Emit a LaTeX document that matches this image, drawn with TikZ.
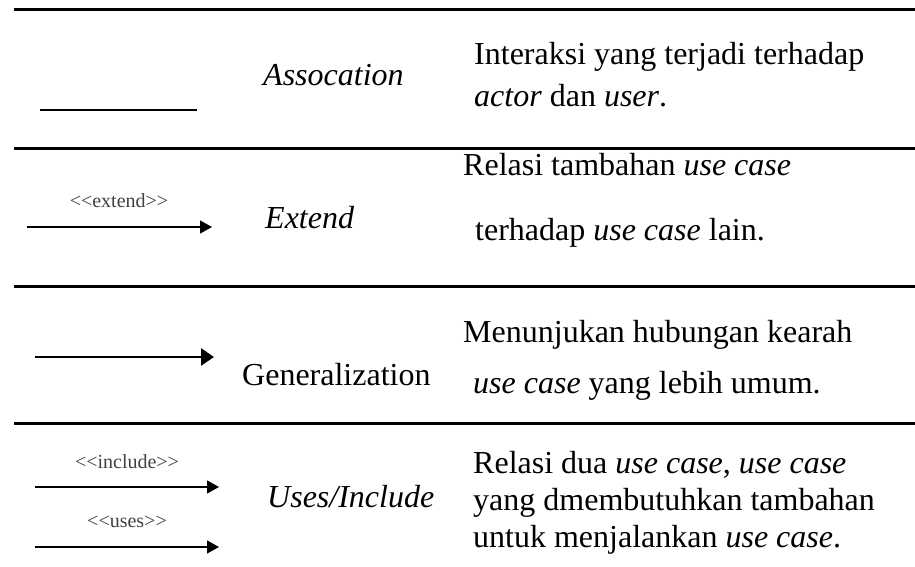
\documentclass[tikz,border=0pt]{standalone}
\usepackage{fontspec}
\setmainfont{Liberation Serif}
\usetikzlibrary{arrows.meta}
\begin{document}
\begin{tikzpicture}[x=1pt,y=-1pt,
  txt/.style={anchor=base west,inner sep=0pt,font=\fontsize{32}{38}\selectfont},
  lbl/.style={anchor=base,inner sep=0pt,text=black!75,font=\fontsize{20}{24}\selectfont},
  rule/.style={line width=3pt},
  thinarrow/.style={line width=1.2pt,-{Triangle[length=12pt,width=13pt]}},
  genarrow/.style={line width=2.6pt,-{Triangle[length=13pt,width=17pt]}}]
\useasboundingbox (0,0) rectangle (915,567);
% rules
\draw[rule] (14,10) -- (915,10);
\draw[rule] (14,148) -- (915,148);
\draw[rule] (14,286) -- (915,286);
\draw[rule] (14,423) -- (915,423);
% row 1
\coordinate (a1) at (40,110);
\coordinate (a2) at (197,110);
\draw[line width=2pt] (a1) -- (a2);
\node[txt] (assoc) at (263,86) {\itshape Assocation};
\node[txt] (d1a) at (474,65) {Interaksi yang terjadi terhadap};
\node[txt] (d1b) at (474,107) {\textit{actor} dan \textit{user}.};
% row 2
\node[lbl] (extlbl) at (119,207) {{<}{<}extend{>}{>}};
\coordinate (e1) at (27,227);
\coordinate (e2) at (212,227);
\draw[thinarrow] (e1) -- (e2);
\node[txt] (ext) at (265,228) {\itshape Extend};
\node[txt] (d2a) at (463,175) {Relasi tambahan \textit{use case}};
\node[txt] (d2b) at (475,240) {terhadap \textit{use case} lain.};
% row 3
\coordinate (g1) at (35,357);
\coordinate (g2) at (214,357);
\draw[genarrow] (g1) -- (g2);
\node[txt] (gen) at (242,385) {Generalization};
\node[txt] (d3a) at (463,342) {Menunjukan hubungan kearah};
\node[txt] (d3b) at (473,393) {\textit{use case} yang lebih umum.};
% row 4
\node[lbl] (inclbl) at (127,468) {{<}{<}include{>}{>}};
\coordinate (i1) at (35,487);
\coordinate (i2) at (219,487);
\draw[thinarrow] (i1) -- (i2);
\node[lbl] (uselbl) at (127,527) {{<}{<}uses{>}{>}};
\coordinate (u1) at (35,547);
\coordinate (u2) at (219,547);
\draw[thinarrow] (u1) -- (u2);
\node[txt] (inc) at (267,507) {\itshape Uses/Include};
\node[txt] (d4a) at (473,473) {Relasi dua \textit{use case}, \textit{use case}};
\node[txt] (d4b) at (473,510) {yang dmembutuhkan tambahan};
\node[txt] (d4c) at (473,547) {untuk menjalankan \textit{use case}.};
\end{tikzpicture}
\end{document}
